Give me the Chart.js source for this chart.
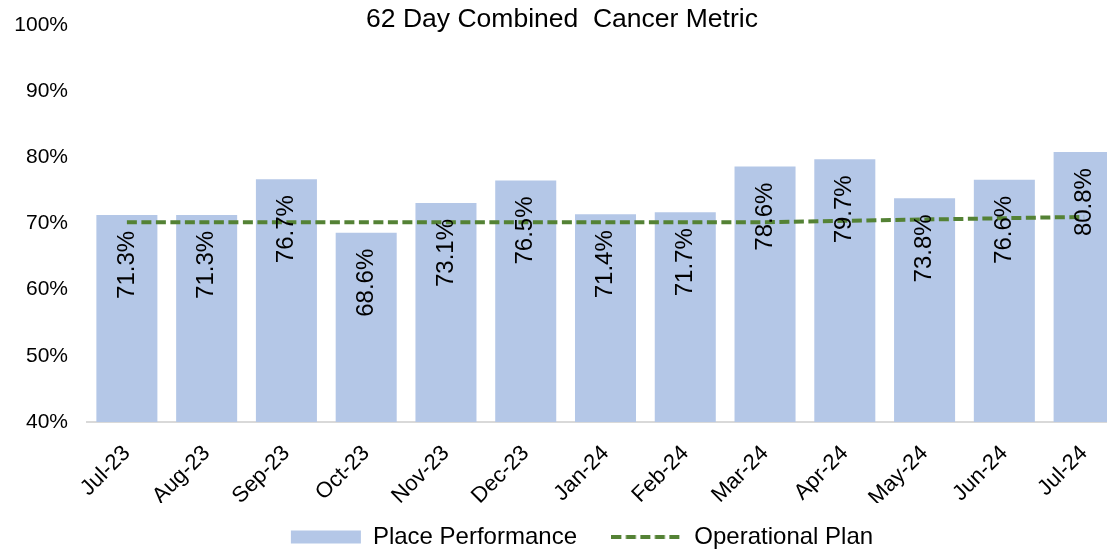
<!DOCTYPE html>
<html lang="en">
<head>
<meta charset="utf-8">
<meta name="viewport" content="width=device-width, initial-scale=1">
<title>62 Day Combined Cancer Metric</title>
<style>
body { margin: 0; overflow: hidden; background: #fff; }
#wrap { width: 1124px; height: 551px; }
</style>
</head>
<body>
<div id="wrap">
<canvas id="canvas"></canvas>
</div>
<script src="https://cdn.jsdelivr.net/npm/chart.js"></script>
<script>

let MONTHS = ["Jul-23", "Aug-23", "Sep-23", "Oct-23", "Nov-23", "Dec-23", "Jan-24",
              "Feb-24", "Mar-24", "Apr-24", "May-24", "Jun-24", "Jul-24"]
let PERFORMANCE = [71.3, 71.3, 76.7, 68.6, 73.1, 76.5, 71.4, 71.7, 78.6, 79.7, 73.8, 76.6, 80.8]
let PLAN = [70.2, 70.2, 70.2, 70.2, 70.2, 70.2, 70.2, 70.2, 70.2, 70.4, 70.6, 70.8, 71.0]
let Y_MIN = 40
let Y_MAX = 100
let Y_STEP = 10

let FONT = "'Liberation Sans', Arial, sans-serif"
let GREEN = "#548235"

// legend swatch for the dashed plan line (point style legend ignores borderDash)
let dashSwatch = document.createElement("canvas")
dashSwatch.width = 72
dashSwatch.height = 4
let dctx = dashSwatch.getContext("2d")
dctx.strokeStyle = GREEN
dctx.lineWidth = 4
dctx.setLineDash([10, 4.5])
dctx.beginPath()
dctx.moveTo(0, 2)
dctx.lineTo(72, 2)
dctx.stroke()

// values written vertically inside the top of each bar
let barLabels = {
    id: "barLabels",
    afterDatasetsDraw(chart) {
        let ctx = chart.ctx
        let meta = chart.getDatasetMeta(0)
        ctx.save()
        ctx.font = "24px " + FONT
        ctx.fillStyle = "#000"
        ctx.textAlign = "right"
        ctx.textBaseline = "middle"
        meta.data.forEach((bar, i) => {
            ctx.save()
            ctx.translate(bar.x, bar.y + 16)
            ctx.rotate(-Math.PI / 2)
            ctx.fillText(PERFORMANCE[i].toFixed(1) + "%", 0, 0)
            ctx.restore()
        })
        ctx.restore()
    }
}

// nudge the legend a little right, as in the original
let legendShift = {
    id: "legendShift",
    afterLayout(chart) {
        chart.legend.left += 20
        chart.legend.right += 20
    }
}

let ctx = document.getElementById("canvas")

let chart = new Chart(ctx, {
    type: "bar",
    data: {
        labels: MONTHS,
        datasets: [
            {
                label: "Place Performance",
                data: PERFORMANCE,
                backgroundColor: "#B4C7E7",
                borderWidth: 0,
                barPercentage: 0.765,
                categoryPercentage: 1,
                pointStyle: "rect",
                order: 2,
            },
            {
                type: "line",
                label: "Operational Plan",
                data: PLAN,
                borderColor: GREEN,
                backgroundColor: GREEN,
                borderWidth: 4,
                borderDash: [10, 4.5],
                pointRadius: 0,
                pointStyle: dashSwatch,
                tension: 0,
                fill: false,
                order: 1,
            },
        ]
    },
    options: {
        responsive: true,
        maintainAspectRatio: false,
        animation: false,
        layout: { padding: { top: 0, right: 0, bottom: -8, left: 0 } },
        plugins: {
            title: {
                display: true,
                text: "62 Day Combined  Cancer Metric",
                color: "#000",
                font: { family: FONT, size: 26.5, weight: "normal", lineHeight: 1.2 },
                padding: { top: 3.6, bottom: -10.4 },
            },
            legend: {
                position: "bottom",
                labels: {
                    usePointStyle: true,
                    pointStyleWidth: 70,
                    boxHeight: 13,
                    padding: 22,
                    color: "#000",
                    font: { family: FONT, size: 24 },
                    sort: (a, b) => a.datasetIndex - b.datasetIndex,
                    generateLabels: (chart) => {
                        let items = Chart.defaults.plugins.legend.labels.generateLabels(chart)
                        // widen the gap between the two legend entries
                        items.forEach(it => { if (it.datasetIndex == 0) it.text += "\u00a0\u00a0" })
                        return items
                    },
                },
            },
            tooltip: { enabled: false },
        },
        scales: {
            x: {
                grid: { display: false, drawTicks: false },
                border: { display: true, color: "#D9D9D9", width: 2 },
                ticks: {
                    autoSkip: false,
                    maxRotation: 45,
                    minRotation: 45,
                    padding: 20,
                    color: "#000",
                    font: { family: FONT, size: 22, lineHeight: 1 },
                },
                afterFit: (scale) => { scale.height = 81 },
            },
            y: {
                min: Y_MIN,
                max: Y_MAX,
                grid: { display: false, drawTicks: false },
                border: { display: false },
                ticks: {
                    stepSize: Y_STEP,
                    padding: 19,
                    color: "#000",
                    font: { family: FONT, size: 21 },
                    callback: (val) => val + "%",
                },
                afterFit: (scale) => {
                    scale.width = 87
                    // the label padding should not push the plot down
                    scale.paddingTop = 0
                    scale.paddingBottom = 0
                },
            },
        },
    },
    plugins: [barLabels, legendShift],
})

</script>
</body>
</html>
